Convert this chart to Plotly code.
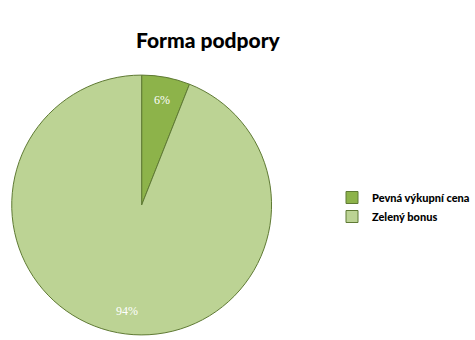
import plotly.graph_objects as go

labels = ["Pevná výkupní cena", "Zelený bonus"]
values = [6, 94]
colors = ["#8db34a", "#bcd394"]
title = "Forma podpory"

W, H = 475, 340
fig = go.Figure()
fig.add_trace(go.Pie(
    labels=labels, values=values, sort=False, direction="clockwise", rotation=0,
    marker=dict(colors=colors, line=dict(color="#5f7a34", width=1)),
    textinfo="none", hoverinfo="label+percent",
    domain=dict(x=[12/W, 278/W], y=[1-338/H, 1-72/H]),
))
# percentage labels
pcts = [round(v / sum(values) * 100) for v in values]
pos = [(166, 91), (117, 320)]
for p, (px, py) in zip(pcts, pos):
    fig.add_annotation(x=px/W, y=1-py/H, xref="paper", yref="paper", text=f"{p}%",
                       showarrow=False, font=dict(family="Liberation Serif", size=12, color="white"))
fig.add_annotation(x=213/W, y=1-25/H, xref="paper", yref="paper", text=title,
                   showarrow=False, font=dict(family="Lato", size=21, color="black", weight=900))
fig.update_layout(
    width=W, height=H, margin=dict(l=0, r=0, t=0, b=0),
    paper_bgcolor="white", plot_bgcolor="white",
    showlegend=True,
    legend=dict(x=340/W, y=1-183/H, xanchor="left", yanchor="top",
                font=dict(family="Lato", size=11, color="black", weight=900),
                itemwidth=30, tracegroupgap=6, traceorder="normal"),
)
fig.write_html("out.html")
